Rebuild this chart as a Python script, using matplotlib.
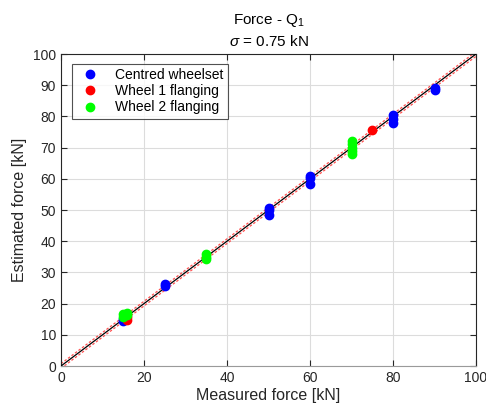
import numpy as np
import matplotlib.pyplot as plt

plt.rcParams['font.family'] = ['Liberation Sans', 'DejaVu Sans']
plt.rcParams['mathtext.fontset'] = 'custom'
plt.rcParams['mathtext.rm'] = 'Liberation Sans'
plt.rcParams['mathtext.it'] = 'Liberation Sans:italic'

# данные
sigma = 0.75
centred_x = [15, 15, 25, 25, 50, 50, 50, 60, 60, 60, 80, 80, 80, 90, 90]
centred_y = [14.3, 15.0, 25.6, 26.4, 48.4, 50.0, 50.6, 58.4, 60.4, 61.0, 78.0, 79.2, 80.5, 88.5, 89.0]
wheel1_x = [16, 16, 75]
wheel1_y = [14.8, 15.6, 75.8]
wheel2_x = [15, 15, 16, 16, 35, 35, 35, 70, 70, 70, 70, 70]
wheel2_y = [15.6, 16.6, 16.2, 17.0, 34.2, 35.0, 35.8, 68.0, 69.0, 70.0, 71.0, 72.0]

fig = plt.figure(figsize=(4.86, 4.12), dpi=100)
ax = fig.add_axes([61 / 486, 46 / 412, 415 / 486, 312 / 412])

line = np.array([0, 100])
ax.plot(line, line + sigma, '--', color='#ff5050', lw=0.9, dashes=(2, 1.5), zorder=2)
ax.plot(line, line - sigma, '--', color='#ff5050', lw=0.9, dashes=(2, 1.5), zorder=2)
ax.plot(line, line, '-', color='black', lw=0.9, zorder=3)

ax.plot(centred_x, centred_y, 'o', color='#0000ff', ms=6, label='Centred wheelset', zorder=4)
ax.plot(wheel1_x, wheel1_y, 'o', color='#ff0000', ms=6, label='Wheel 1 flanging', zorder=4)
ax.plot(wheel2_x, wheel2_y, 'o', color='#00ff00', ms=6, label='Wheel 2 flanging', zorder=4)

ax.set_xlim(0, 100)
ax.set_ylim(0, 100)
ax.set_xticks(np.arange(0, 101, 20))
ax.set_yticks(np.arange(0, 101, 10))
ax.grid(True, color='#dcdcdc', lw=0.8)
ax.set_axisbelow(True)
ax.tick_params(direction='in', top=True, right=True, labelsize=10, colors='#262626', length=4)
for s in ax.spines.values():
    s.set_color('#262626')
ax.spines['bottom'].set_color('#9a9a9a')

ax.set_xlabel('Measured force [kN]', fontsize=11.5, color='#262626', labelpad=2)
ax.set_ylabel('Estimated force [kN]', fontsize=11.5, color='#262626', labelpad=4)
ax.set_title('Force - Q$_1$\n$\\sigma$ = 0.75 kN', fontsize=11, color='black', pad=6,
             linespacing=1.4)

leg = ax.legend(loc='upper left', fontsize=10, frameon=True, fancybox=False,
                edgecolor='#262626', handletextpad=0.8, borderpad=0.3,
                labelspacing=0.15, bbox_to_anchor=(0.01, 0.99))
leg.get_frame().set_linewidth(0.8)

fig.savefig('out.png', dpi=100)
